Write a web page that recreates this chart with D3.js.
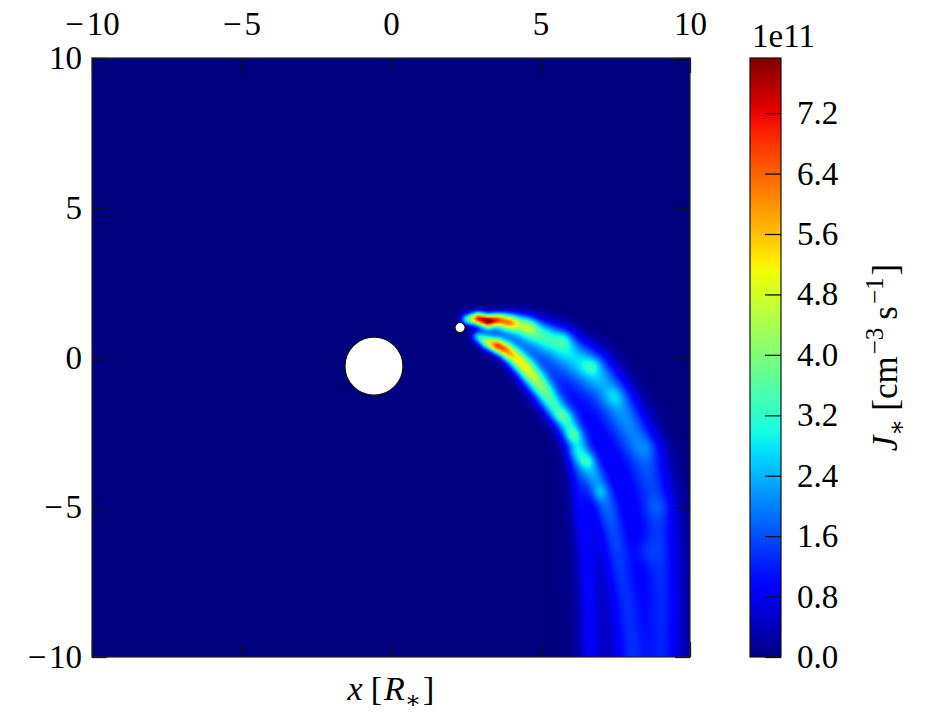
<!DOCTYPE html>
<html>
  <head>
    <title></title>
    <style>
      body, html{
        margin: 0;
        width: 100%;
        height: 100%;
        background: #fff;
      }
      text{
        font-family: "Liberation Serif", "DejaVu Serif", serif;
        font-size: 32px;
        fill: #000;
      }
      .tick line{
        stroke: #111;
        stroke-width: 1.3px;
      }
    </style>
  </head>
  <body>
    <svg id="chart" width="927" height="715"></svg>
    <script src="https://cdnjs.cloudflare.com/ajax/libs/d3/7.8.5/d3.min.js" charset="utf-8"></script>
    <script>

      // axis ticks
      var xTicks = [-10, -5, 0, 5, 10]
      var yTicks = [-10, -5, 0, 5, 10]
      var cbTicks = [0, 0.8, 1.6, 2.4, 3.2, 4.0, 4.8, 5.6, 6.4, 7.2]
      var vmax = 7.93 // top of the colour bar, units of 1e11

      // ridges of the emission: [x, y, peak (1e11), width]
      var upperArm = [
        [2.55, 1.28, 3.2, 0.14], [2.91, 1.30, 7.0, 0.15], [3.24, 1.23, 7.9, 0.15],
        [3.58, 1.26, 6.5, 0.16], [3.98, 1.19, 4.6, 0.2], [4.48, 1.06, 3.6, 0.25],
        [4.98, 0.82, 3.0, 0.3], [5.59, 0.52, 2.6, 0.36], [6.15, 0.09, 2.2, 0.4],
        [6.72, -0.34, 2.3, 0.42], [7.22, -0.91, 1.9, 0.42], [7.66, -1.58, 1.8, 0.42],
        [8.10, -2.41, 1.6, 0.43], [8.55, -3.41, 1.3, 0.44], [8.80, -4.41, 1.1, 0.44],
        [8.95, -5.42, 1.0, 0.44], [9.05, -6.75, 0.95, 0.44], [9.10, -8.08, 0.9, 0.44],
        [9.12, -9.42, 0.85, 0.44], [9.12, -10.1, 0.85, 0.44]
      ]
      var innerArm = [
        [2.91, 0.69, 2.6, 0.14], [3.21, 0.52, 4.5, 0.16], [3.55, 0.39, 6.6, 0.17],
        [3.81, 0.26, 6.0, 0.18], [4.15, -0.01, 4.8, 0.21], [4.48, -0.34, 4.6, 0.23],
        [4.82, -0.74, 4.0, 0.25], [5.15, -1.18, 3.4, 0.26], [5.49, -1.68, 2.9, 0.26],
        [5.82, -2.08, 2.8, 0.26], [6.09, -2.58, 2.6, 0.26], [6.32, -3.08, 2.1, 0.26],
        [6.59, -3.58, 2.1, 0.26], [6.89, -4.25, 1.6, 0.28], [7.16, -4.91, 1.3, 0.3],
        [7.39, -5.75, 1.0, 0.32], [7.59, -6.75, 0.85, 0.33], [7.83, -8.08, 0.75, 0.34],
        [8.00, -9.42, 0.7, 0.34], [8.05, -10.1, 0.7, 0.34]
      ]
      var innerBand = [
        [6.15, -3.25, 0.8, 0.2], [6.32, -4.75, 0.8, 0.22], [6.52, -6.42, 0.75, 0.24],
        [6.59, -8.08, 0.7, 0.24], [6.66, -10.0, 0.7, 0.24]
      ]
      var haze = [
        [3.2, 0.95, 1.2, 0.18], [3.8, 0.8, 1.5, 0.25], [4.4, 0.5, 1.5, 0.35],
        [5.1, 0.0, 1.3, 0.5], [6.0, -0.8, 1.1, 0.6], [6.8, -1.9, 0.9, 0.7],
        [7.4, -3.2, 0.8, 0.8], [7.8, -4.5, 0.7, 0.9], [8.0, -6.0, 0.65, 1.0],
        [8.1, -7.5, 0.6, 1.0], [8.15, -9.0, 0.6, 1.0], [8.15, -10.2, 0.6, 1.0]
      ]
      var ridges = [upperArm, innerArm, innerBand, haze]

      // brighter knots along the arms: [x, y, peak, width]
      var knots = [
        [4.0, 1.15, 1.2, 0.15], [4.6, 1.0, 0.8, 0.18], [5.8, 0.6, 0.7, 0.2],
        [6.7, -0.3, 0.6, 0.2], [7.5, -1.3, 0.5, 0.22], [6.09, -2.6, 0.7, 0.15],
        [6.55, -3.45, 0.7, 0.15], [7.0, -4.5, 0.5, 0.18], [5.7, -1.95, 0.5, 0.15],
        [8.6, -3.0, 0.4, 0.3], [9.0, -5.0, 0.3, 0.3], [8.5, -6.5, 0.3, 0.3]
      ]

      // star and companion: [x, y, radius]
      var bodies = [[-0.57, -0.29, 0.97], [2.31, 1.0, 0.17]]

      var plot = {left: 92, top: 58, right: 690, bottom: 657}
      var bar = {left: 750, right: 781}
      var svg = d3.select('#chart')

      var x = d3.scaleLinear().domain([-10, 10]).range([plot.left, plot.right])
      var y = d3.scaleLinear().domain([-10, 10]).range([plot.bottom, plot.top])
      var c = d3.scaleLinear().domain([0, vmax]).range([plot.bottom, plot.top])

      // matplotlib jet
      var jetR = d3.scaleLinear().domain([0, 0.35, 0.66, 0.89, 1]).range([0, 0, 1, 1, 0.5]).clamp(true)
      var jetG = d3.scaleLinear().domain([0, 0.125, 0.375, 0.64, 0.91, 1]).range([0, 0, 1, 1, 0, 0]).clamp(true)
      var jetB = d3.scaleLinear().domain([0, 0.11, 0.34, 0.65, 1]).range([0.5, 1, 1, 0, 0]).clamp(true)
      function jet(v){
        var t = Math.max(0, Math.min(1, v / vmax))
        return [jetR(t) * 255, jetG(t) * 255, jetB(t) * 255]
      }

      function ridgeValue(r, px, py){
        var best = 0
        for(var i = 0; i < r.length - 1; i++){
          var a = r[i], b = r[i + 1]
          var dx = b[0] - a[0], dy = b[1] - a[1]
          var t = ((px - a[0]) * dx + (py - a[1]) * dy) / (dx * dx + dy * dy)
          t = Math.max(0, Math.min(1, t))
          var qx = a[0] + t * dx - px, qy = a[1] + t * dy - py
          var v = a[2] + t * (b[2] - a[2]), s = a[3] + t * (b[3] - a[3])
          var f = v * Math.exp(-(qx * qx + qy * qy) / (2 * s * s))
          if(f > best) best = f
        }
        return best
      }
      function knotValue(px, py){
        var sum = 0
        knots.forEach(function(k){
          var qx = k[0] - px, qy = k[1] - py
          sum += k[2] * Math.exp(-(qx * qx + qy * qy) / (2 * k[3] * k[3]))
        })
        return sum
      }

      // heat map cells
      var N = 300
      var canvas = document.createElement('canvas')
      canvas.width = N; canvas.height = N
      var ctx = canvas.getContext('2d')
      var img = ctx.createImageData(N, N)
      var cw = (plot.right - plot.left) / N, ch = (plot.bottom - plot.top) / N
      for(var j = 0; j < N; j++){
        var cy = y.invert(plot.top + (j + 0.5) * ch)
        for(var i = 0; i < N; i++){
          var cx = x.invert(plot.left + (i + 0.5) * cw)
          var val = 0
          if(cx > 1.5 && cy < 2.8){
            ridges.forEach(function(r){ val += ridgeValue(r, cx, cy) })
            val += knotValue(cx, cy)
          }
          var col = jet(val), k = (j * N + i) * 4
          img.data[k] = col[0]; img.data[k + 1] = col[1]; img.data[k + 2] = col[2]; img.data[k + 3] = 255
        }
      }
      ctx.putImageData(img, 0, 0)

      svg.append('image')
        .attr('x', plot.left).attr('y', plot.top)
        .attr('width', plot.right - plot.left).attr('height', plot.bottom - plot.top)
        .attr('preserveAspectRatio', 'none')
        .attr('href', canvas.toDataURL())

      svg.selectAll('circle.body').data(bodies).enter().append('circle')
        .attr('class', 'body')
        .attr('cx', function(d){ return x(d[0]) })
        .attr('cy', function(d){ return y(d[1]) })
        .attr('r', function(d){ return x(d[2]) - x(0) })
        .style('fill', '#fff').style('stroke', '#111').style('stroke-width', 1.2)

      // axes, ticks pointing in
      var tk = 15
      function fmt(d){ return d < 0 ? '\u2212\u200a' + (-d) : '' + d }
      svg.append('g').attr('transform', 'translate(0,' + plot.top + ')')
        .call(d3.axisTop(x).tickValues(xTicks).tickSize(-tk).tickPadding(23).tickFormat(fmt))
      svg.append('g').attr('transform', 'translate(0,' + plot.bottom + ')')
        .call(d3.axisBottom(x).tickValues(xTicks).tickSize(-tk).tickFormat(''))
      svg.append('g').attr('transform', 'translate(' + plot.left + ',0)')
        .call(d3.axisLeft(y).tickValues(yTicks).tickSize(-tk).tickPadding(10).tickFormat(fmt))
      svg.append('g').attr('transform', 'translate(' + plot.right + ',0)')
        .call(d3.axisRight(y).tickValues(yTicks).tickSize(-tk).tickFormat(''))
      svg.selectAll('.domain').remove()
      svg.selectAll('.tick text').style('font-size', '33px').style('font-family', '"Liberation Serif", serif').attr('fill', '#000')

      svg.append('rect')
        .attr('x', plot.left).attr('y', plot.top)
        .attr('width', plot.right - plot.left).attr('height', plot.bottom - plot.top)
        .style('fill', 'none').style('stroke', '#222').style('stroke-width', 1.2)

      // colour bar
      var grad = svg.append('defs').append('linearGradient')
        .attr('id', 'jet').attr('x1', 0).attr('y1', 1).attr('x2', 0).attr('y2', 0)
      grad.selectAll('stop').data(d3.range(0, 1.0001, 0.02)).enter().append('stop')
        .attr('offset', function(d){ return d })
        .attr('stop-color', function(d){ var col = jet(d * vmax); return d3.rgb(col[0], col[1], col[2]) })
      svg.append('rect')
        .attr('x', bar.left).attr('y', plot.top)
        .attr('width', bar.right - bar.left).attr('height', plot.bottom - plot.top)
        .style('fill', 'url(#jet)').style('stroke', '#111').style('stroke-width', 1.2)
      var cbAxis = svg.append('g').attr('transform', 'translate(' + bar.right + ',0)')
        .call(d3.axisRight(c).tickValues(cbTicks).tickSize(-16).tickPadding(16).tickFormat(d3.format('.1f')))
      cbAxis.select('.domain').remove()
      cbAxis.selectAll('.tick text').style('font-size', '33px').style('font-family', '"Liberation Serif", serif').attr('fill', '#000')

      svg.append('text').attr('x', bar.left + 2).attr('y', 47).style('font-size', '33px').text('1e11')

      // labels
      var xl = svg.append('text').attr('x', (plot.left + plot.right) / 2).attr('y', 700)
        .attr('text-anchor', 'middle').style('font-size', '34px')
      xl.append('tspan').style('font-style', 'italic').text('x')
      xl.append('tspan').attr('dx', 8).text('[')
      xl.append('tspan').attr('dx', 2).style('font-style', 'italic').text('R')
      xl.append('tspan').attr('dy', 8).style('font-size', '24px').text('\u2217')
      xl.append('tspan').attr('dy', -8).attr('dx', 2).text(']')

      var cl = svg.append('text')
        .attr('transform', 'translate(897,' + (plot.top + plot.bottom) / 2 + ') rotate(-90)')
        .attr('text-anchor', 'middle').style('font-size', '35px')
      cl.append('tspan').style('font-style', 'italic').text('J')
      cl.append('tspan').attr('dy', 8).style('font-size', '25px').text('\u2217')
      cl.append('tspan').attr('dy', -8).attr('dx', 8).text('[cm')
      cl.append('tspan').attr('dy', -14).attr('dx', 2).style('font-size', '25px').text('\u22123')
      cl.append('tspan').attr('dy', 14).attr('dx', 8).text('s')
      cl.append('tspan').attr('dy', -14).attr('dx', 2).style('font-size', '25px').text('\u22121')
      cl.append('tspan').attr('dy', 14).attr('dx', 2).text(']')

    </script>
  </body>
</html>
